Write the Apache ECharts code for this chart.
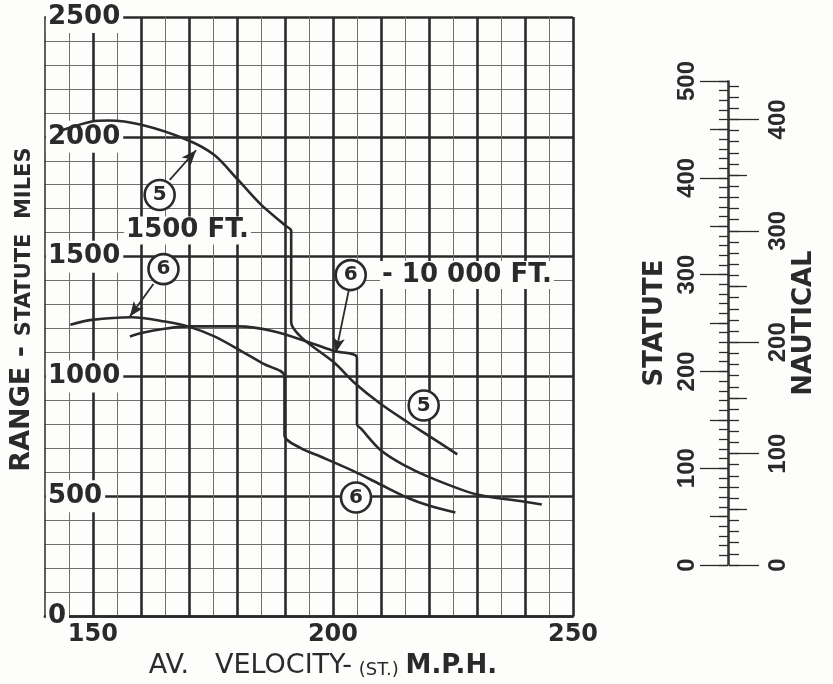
<!DOCTYPE html>
<html>
<head>
<meta charset="utf-8">
<title>Range - Av. Velocity</title>
<script src="https://cdn.jsdelivr.net/npm/echarts@6/dist/echarts.min.js"></script>
<style>
html,body{margin:0;padding:0;background:#fdfdfc;}
#chart_range{width:833px;height:684px;}
</style>
</head>
<body>
<div id="chart_range"></div>
<script>
var INK = '#2a2a2a', THIN = '#6e6e6e', PAPER = '#fdfdfc';
var NM = 1.15078; // statute miles in one nautical mile

// curves: [mph, statute miles]
var range_5_1500 = [[143.5,2027],[149.8,2064],[153.2,2068],[160.1,2050],[169.8,1986],[175.3,1924],[180.2,1821],[185.0,1717],[190.2,1628],[191.3,1608],[191.3,1225],[193.6,1160],[200.3,1057],[204.4,975],[209.9,886],[215.5,810],[220.3,748],[225.9,675]];
var range_6_1500 = [[145.3,1216],[149.8,1236],[158.1,1247],[165.0,1229],[169.8,1209],[175.3,1167],[180.9,1106],[185.7,1051],[189.9,1002],[189.9,755],[193.3,701],[197.5,665],[204.4,604],[209.9,549],[215.5,494],[220.3,459],[225.5,432]];
var range_6_10000 = [[157.7,1167],[160.1,1181],[164.9,1199],[169.8,1209],[180.2,1209],[187.8,1188],[195.4,1140],[200.2,1106],[205.0,1078],[205.0,800],[205.8,783],[209.9,693],[214.7,631],[220.3,578],[230.0,507],[239.0,480],[243.5,466]];

// notes on the sheet
var circle_marks = [[163.9,1757,'5'],[164.7,1448,'6'],[203.7,1423,'6'],[218.9,879,'5'],[204.8,495,'6']];
var text_marks = [[169.7,1609,'1500 FT.'],[227.9,1423,'- 10 000 FT.']];
var arrow_marks = [[[166.0,1820],[171.5,1944]],[[162.6,1386],[157.7,1250]],[[203.3,1360],[200.6,1099]]];

var x_labels = [150,200,250];
var statute_major = [0,100,200,300,400,500];
var statute_mid = [50,150,250,350,450];
var nautical_major = [0,100,200,300,400];
var nautical_mid = [50,150,250,350];

function steps(from, to, step){
    var arr = [];
    for(var v=from; v<=to; v+=step){
        arr.push(v);
    }
    return arr;
}
var statute_minor = steps(0,500,10);
var nautical_minor = steps(0,430,10);

// one axis of the conversion scale (several overlap to get 3 tick lengths)
function scaleAxis(side, max, ticks, len, labels, margin, name){
    var axis = {
        gridIndex: 1,
        type: 'value',
        position: side,
        min: 0,
        max: max,
        axisLine: {show: !!labels, lineStyle: {color: INK, width: 1.5}},
        axisTick: {show: true, customValues: ticks, length: len, lineStyle: {color: INK, width: 1.3}},
        axisLabel: {show: false},
        splitLine: {show: false}
    };
    if(labels){
        axis.axisLabel = {
            show: true, customValues: labels, rotate: 90, margin: margin,
            color: INK, fontFamily: 'Liberation Sans', fontWeight: 'bold', fontSize: 24, lineHeight: 24,
            formatter: function(v){ return String(v); }
        };
        axis.name = name;
        axis.nameLocation = 'middle';
        axis.nameRotate = 90;
        axis.nameGap = side == 'left' ? 60 : 61;
        axis.nameTextStyle = {color: INK, fontFamily: 'DejaVu Sans', fontWeight: 'bold', fontSize: 26, lineHeight: 26};
    }
    return axis;
}

function curveSeries(name, data){
    return {
        name: name,
        type: 'line',
        xAxisIndex: 0,
        yAxisIndex: 0,
        data: data,
        smooth: 0.3,
        symbol: 'none',
        lineStyle: {color: INK, width: 2.6},
        z: 3
    };
}

var myChart = echarts.init(document.getElementById('chart_range'));
var option = {
    backgroundColor: PAPER,
    animation: false,
    grid: [
        {left: 43, top: 17, width: 530, height: 606},
        {left: 728, top: 81, width: 1, height: 484}
    ],
    xAxis: [
        {
            gridIndex: 0,
            type: 'value',
            min: 140,
            max: 250,
            interval: 10,
            axisLine: {show: true, onZero: false, lineStyle: {color: INK, width: 2.6}},
            axisTick: {show: false},
            minorTick: {show: false, splitNumber: 2},
            axisLabel: {customValues: x_labels, margin: 7, color: INK, fontFamily: 'DejaVu Sans', fontWeight: 'bold', fontSize: 24},
            splitLine: {show: true, showMinLine: false, lineStyle: {color: INK, width: 2.6}},
            minorSplitLine: {show: true, lineStyle: {color: THIN, width: 1}},
            name: '{a|AV.   VELOCITY-}  {b|(ST.)}  {c|M.P.H.}',
            nameLocation: 'middle',
            nameGap: 28,
            nameTextStyle: {
                padding: [0, 0, 0, 28],
                rich: {
                    a: {color: INK, fontFamily: 'DejaVu Sans', fontSize: 27, lineHeight: 28, verticalAlign: 'bottom'},
                    b: {color: INK, fontFamily: 'DejaVu Sans', fontSize: 18, lineHeight: 23, verticalAlign: 'bottom'},
                    c: {color: INK, fontFamily: 'DejaVu Sans', fontWeight: 'bold', fontSize: 26, lineHeight: 28, verticalAlign: 'bottom'}
                }
            }
        },
        {gridIndex: 1, type: 'value', show: false, min: 0, max: 1}
    ],
    yAxis: [
        {
            gridIndex: 0,
            type: 'value',
            min: 0,
            max: 2500,
            interval: 500,
            axisLine: {show: true, lineStyle: {color: INK, width: 1.5}},
            axisTick: {show: false},
            minorTick: {show: false, splitNumber: 5},
            axisLabel: {
                inside: true, margin: 1, color: INK, fontFamily: 'DejaVu Sans', fontWeight: 'bold', fontSize: 26,
                backgroundColor: PAPER, padding: [6, 3, 0, 2],
                formatter: function(v){ return String(v); }
            },
            splitLine: {show: true, lineStyle: {color: INK, width: 2.6}},
            minorSplitLine: {show: true, lineStyle: {color: THIN, width: 1}},
            name: '{a|RANGE -}   {b|STATUTE  MILES}',
            nameLocation: 'middle',
            nameRotate: 90,
            nameGap: 3,
            nameTextStyle: {
                padding: [0, 0, 0, 14],
                rich: {
                    a: {color: INK, fontFamily: 'DejaVu Sans', fontWeight: 'bold', fontSize: 27, lineHeight: 28, verticalAlign: 'bottom'},
                    b: {color: INK, fontFamily: 'DejaVu Sans', fontWeight: 'bold', fontSize: 21, lineHeight: 23, verticalAlign: 'bottom'}
                }
            }
        },
        scaleAxis('left', 500, statute_major, 28, statute_major, 29, 'STATUTE'),
        scaleAxis('left', 500, statute_mid, 18),
        scaleAxis('left', 500, statute_minor, 9),
        scaleAxis('right', 500 / NM, nautical_major, 30, nautical_major, 37, 'NAUTICAL'),
        scaleAxis('right', 500 / NM, nautical_mid, 18),
        scaleAxis('right', 500 / NM, nautical_minor, 10)
    ],
    series: [
        curveSeries('5 - 1500 ft', range_5_1500),
        curveSeries('6 - 1500 ft', range_6_1500),
        curveSeries('6 - 10000 ft', range_6_10000),
        {
            name: 'circled',
            type: 'scatter',
            data: circle_marks,
            symbol: 'circle',
            symbolSize: 30,
            itemStyle: {color: PAPER, borderColor: INK, borderWidth: 2.6, opacity: 1},
            label: {
                show: true, position: 'inside', color: INK,
                fontFamily: 'DejaVu Sans', fontWeight: 'bold', fontSize: 20,
                formatter: function(p){ return p.value[2]; }
            },
            z: 5,
            silent: true
        },
        {
            name: 'notes',
            type: 'scatter',
            data: text_marks,
            symbolSize: 0,
            itemStyle: {opacity: 1},
            label: {
                show: true, position: 'inside', color: INK,
                fontFamily: 'DejaVu Sans', fontWeight: 'bold', fontSize: 26,
                backgroundColor: PAPER, padding: [1, 2],
                formatter: function(p){ return p.value[2]; }
            },
            markLine: {
                silent: true,
                symbol: ['none', 'arrow'],
                symbolSize: [9, 15],
                label: {show: false},
                lineStyle: {color: INK, width: 1.8, type: 'solid', opacity: 1},
                data: arrow_marks.map(function(a){ return [{coord: a[0]}, {coord: a[1]}]; })
            },
            z: 4,
            silent: true
        }
    ]
};
myChart.setOption(option);
</script>
</body>
</html>
